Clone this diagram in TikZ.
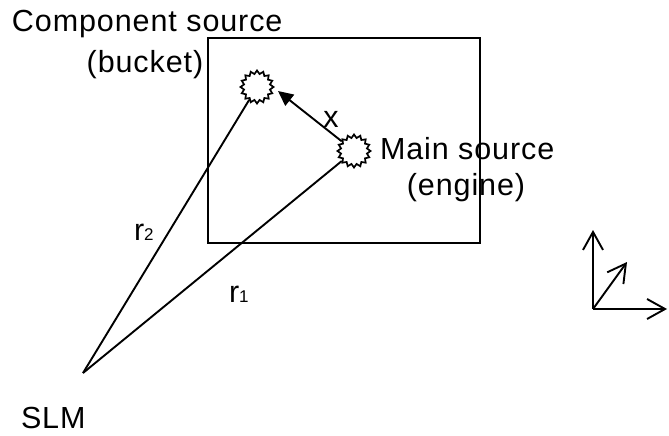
\documentclass[tikz,border=0pt]{standalone}
\usepackage{fontspec}
\setmainfont{Liberation Sans}[LetterSpace=3]
\usetikzlibrary{shapes.geometric,arrows.meta}
\begin{document}
\begin{tikzpicture}[x=1pt,y=-1pt,
  lbl/.style={inner sep=0pt, outer sep=0pt, font=\fontsize{30.5}{36}\selectfont},
  src/.style={star, star points=16, star point ratio=1.25, draw, line width=1.7pt, fill=white, minimum size=33pt, inner sep=0pt},
  ln/.style={line width=1.9pt},
  axis/.style={line width=1.9pt, -{Straight Barb[length=18pt,width=20pt]}},
]
\useasboundingbox (0,0) rectangle (669,436);
% rectangle
\node[draw, line width=1.9pt, minimum width=272pt, minimum height=205pt, inner sep=0pt] (box) at (344,140.5) {};
% sources
\node[src] (bucket) at (257,87) {};
\node[src] (main) at (354,151) {};
\coordinate (slm) at (83,373);
\coordinate (xtip) at (278,91);
% connectors
\draw[ln] (slm) -- (bucket);
\draw[ln] (slm) -- (main);
\draw[ln, -{Triangle[length=15pt,width=14pt]}] (main) -- (xtip);
% labels
\node[lbl, anchor=base west] (comp) at (12,32) {Component source};
\node[lbl, anchor=base] (bkt) at (145,72) {(bucket)};
\node[lbl, anchor=base west] (mainl) at (380,159) {Main source};
\node[lbl, anchor=base] (eng) at (466,195) {(engine)};
\node[lbl, anchor=base west] (slml) at (21,428) {SLM};
\node[lbl, anchor=base] (xl) at (331,127) {x};
\node[lbl, anchor=base west] (r2) at (134,240) {r{\fontsize{17}{20}\selectfont 2}};
\node[lbl, anchor=base west] (r1) at (229,302) {r{\fontsize{17}{20}\selectfont 1}};
% axes
\coordinate (o) at (593,309);
\coordinate (ay) at (593,230);
\coordinate (ax) at (667,309);
\coordinate (ad) at (627,262);
\draw[axis] (o) -- (ay);
\draw[axis] (o) -- (ax);
\draw[axis] (o) -- (ad);
\end{tikzpicture}
\end{document}
